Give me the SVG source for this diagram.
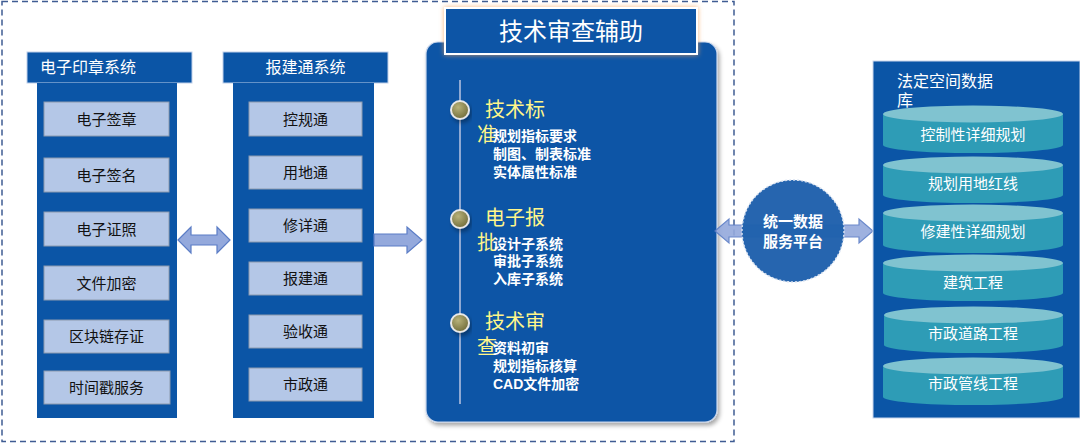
<svg xmlns="http://www.w3.org/2000/svg" width="1080" height="444" viewBox="0 0 1080 444">
<defs>
<style>
.t{font-family:"Liberation Sans","Noto Sans CJK SC",sans-serif}
.hdr{fill:#0B55A6;stroke:#BFD0EA;stroke-width:1}
.body{fill:#0B55A6}
.item{fill:#B4C7E7;stroke:#8C9AAE;stroke-width:1}
.itxt{font-size:15px;fill:#111;text-anchor:middle}
.htxt{font-size:16px;fill:#fff}
.yel{font-size:20px;fill:#FFF68A}
.sub{font-size:14px;fill:#fff;font-weight:bold}
.arr{fill:#94A9DC;stroke:#5B7DC6;stroke-width:1.2}
.cylb{fill:#2E9CB6}
.cylt{fill:#80C3D0}
.ctxt{font-size:15px;fill:#fff;text-anchor:middle}
</style>
<radialGradient id="dot" cx="40%" cy="35%" r="70%">
<stop offset="0" stop-color="#B8B27A"/>
<stop offset="1" stop-color="#6E6A38"/>
</radialGradient>
<filter id="sh" x="-10%" y="-10%" width="125%" height="125%">
<feDropShadow dx="2" dy="3" stdDeviation="2" flood-color="#000" flood-opacity="0.35"/>
</filter>
<filter id="glow" x="-10%" y="-30%" width="120%" height="160%">
<feDropShadow dx="0" dy="0" stdDeviation="2.5" flood-color="#F5A35A" flood-opacity="0.8"/>
</filter>
</defs>
<rect width="1080" height="444" fill="#fff"/>
<rect x="2" y="1.5" width="732" height="440" fill="none" stroke="#3F5C93" stroke-width="1.5" stroke-dasharray="6,4"/>

<g id="seal-system">
<rect class="hdr" x="27" y="52" width="165" height="31"/>
<text class="t htxt" x="40" y="73">电子印章系统</text>
<rect class="body" x="37" y="83" width="140" height="335"/>
<rect class="item" x="44" y="102" width="125" height="34"/><text class="t itxt" x="106.5" y="125">电子签章</text>
<rect class="item" x="44" y="158" width="125" height="34"/><text class="t itxt" x="106.5" y="181">电子签名</text>
<rect class="item" x="44" y="212" width="125" height="34"/><text class="t itxt" x="106.5" y="235">电子证照</text>
<rect class="item" x="44" y="266" width="125" height="34"/><text class="t itxt" x="106.5" y="289">文件加密</text>
<rect class="item" x="44" y="320" width="125" height="33"/><text class="t itxt" x="106.5" y="342">区块链存证</text>
<rect class="item" x="44" y="371" width="126" height="33"/><text class="t itxt" x="106.5" y="393">时间戳服务</text>
</g>

<g id="report-system">
<rect class="hdr" x="223" y="52" width="165" height="31"/>
<text class="t htxt" x="305.5" y="73" text-anchor="middle">报建通系统</text>
<rect class="body" x="233" y="83" width="141" height="335"/>
<rect class="item" x="249" y="102" width="113" height="34"/><text class="t itxt" x="305.5" y="125">控规通</text>
<rect class="item" x="249" y="156" width="113" height="33"/><text class="t itxt" x="305.5" y="178">用地通</text>
<rect class="item" x="249" y="209" width="113" height="33"/><text class="t itxt" x="305.5" y="231">修详通</text>
<rect class="item" x="249" y="262" width="113" height="33"/><text class="t itxt" x="305.5" y="284">报建通</text>
<rect class="item" x="249" y="315" width="113" height="33"/><text class="t itxt" x="305.5" y="337">验收通</text>
<rect class="item" x="249" y="368" width="113" height="33"/><text class="t itxt" x="305.5" y="390">市政通</text>
</g>

<g id="tech-review">
<rect x="426" y="42" width="291" height="380" rx="12" fill="#0B55A6" stroke="#C9D6EC" stroke-width="1.2" filter="url(#sh)"/>
<line x1="460" y1="80" x2="460" y2="404" stroke="#8FA9D3" stroke-width="2"/>
<g filter="url(#sh)">
<circle cx="460" cy="110" r="9" fill="url(#dot)" stroke="#E8E8E8" stroke-width="2"/>
<circle cx="460" cy="219" r="9" fill="url(#dot)" stroke="#E8E8E8" stroke-width="2"/>
<circle cx="460" cy="323" r="9" fill="url(#dot)" stroke="#E8E8E8" stroke-width="2"/>
</g>
<text class="t yel" x="485" y="117">技术标</text>
<text class="t yel" x="477" y="142">准</text>
<text class="t sub" x="493" y="141">规划指标要求</text>
<text class="t sub" x="493" y="159">制图、制表标准</text>
<text class="t sub" x="493" y="177">实体属性标准</text>
<text class="t yel" x="485" y="225">电子报</text>
<text class="t yel" x="477" y="250">批</text>
<text class="t sub" x="493" y="249">设计子系统</text>
<text class="t sub" x="493" y="266">审批子系统</text>
<text class="t sub" x="493" y="284">入库子系统</text>
<text class="t yel" x="485" y="329">技术审</text>
<text class="t yel" x="477" y="354">查</text>
<text class="t sub" x="493" y="353">资料初审</text>
<text class="t sub" x="493" y="371">规划指标核算</text>
<text class="t sub" x="493" y="389">CAD文件加密</text>
<rect x="445" y="8" width="252" height="46" fill="#0B55A6" stroke="#FFFFFF" stroke-width="2" filter="url(#glow)"/>
<text class="t" x="571" y="40" font-size="24" fill="#fff" text-anchor="middle">技术审查辅助</text>
</g>

<g id="connectors">
<path class="arr" d="M178,240 L191,227 L191,235 L217,235 L217,227 L230,240 L217,253 L217,245 L191,245 L191,253 Z"/>
<path class="arr" d="M374,234 L407,234 L407,227 L422,240 L407,253 L407,246 L374,246 Z"/>
<path class="arr" d="M715,231 L729,219 L729,225 L859,225 L859,219 L873,231 L859,243 L859,237 L729,237 L729,243 Z" opacity="0.9"/>
</g>

<g id="data-platform">
<circle cx="793" cy="231" r="51" fill="#1F61AD" stroke="#D6E0F0" stroke-width="1.5" stroke-dasharray="2,2" opacity="0.97"/>
<text class="t" x="793" y="227" font-size="15" font-weight="bold" fill="#fff" text-anchor="middle">统一数据</text>
<text class="t" x="793" y="247" font-size="15" font-weight="bold" fill="#fff" text-anchor="middle">服务平台</text>
</g>

<g id="spatial-db">
<rect x="873" y="61" width="207" height="357" fill="#0B55A6" stroke="#C9D6EC" stroke-width="1"/>
<text class="t htxt" x="897" y="87">法定空间数据</text>
<text class="t htxt" x="897" y="106">库</text>
<g id="cyl1"><path class="cylb" d="M883,114 L883,145 A90,8 0 0 0 1063,145 L1063,114 Z"/><ellipse class="cylt" cx="973" cy="114" rx="90" ry="8.5"/><text class="t ctxt" x="973" y="140">控制性详细规划</text></g>
<g id="cyl2"><path class="cylb" d="M883,165 L883,195 A90,8 0 0 0 1063,195 L1063,165 Z"/><ellipse class="cylt" cx="973" cy="165" rx="90" ry="8.5"/><text class="t ctxt" x="973" y="189">规划用地红线</text></g>
<g id="cyl3"><path class="cylb" d="M883,213 L883,245 A90,8 0 0 0 1063,245 L1063,213 Z"/><ellipse class="cylt" cx="973" cy="213" rx="90" ry="8.5"/><text class="t ctxt" x="973" y="237">修建性详细规划</text></g>
<g id="cyl4"><path class="cylb" d="M883,263 L883,293 A90,8 0 0 0 1063,293 L1063,263 Z"/><ellipse class="cylt" cx="973" cy="263" rx="90" ry="8.5"/><text class="t ctxt" x="973" y="288">建筑工程</text></g>
<g id="cyl5"><path class="cylb" d="M884,315 L884,345 A89,8 0 0 0 1063,345 L1063,315 Z"/><ellipse class="cylt" cx="973.5" cy="315" rx="89.5" ry="8.5"/><text class="t ctxt" x="973" y="339">市政道路工程</text></g>
<g id="cyl6"><path class="cylb" d="M883,366 L883,397 A90,8 0 0 0 1063,397 L1063,366 Z"/><ellipse class="cylt" cx="973" cy="366" rx="90" ry="8.5"/><text class="t ctxt" x="973" y="389">市政管线工程</text></g>
</g>
</svg>
